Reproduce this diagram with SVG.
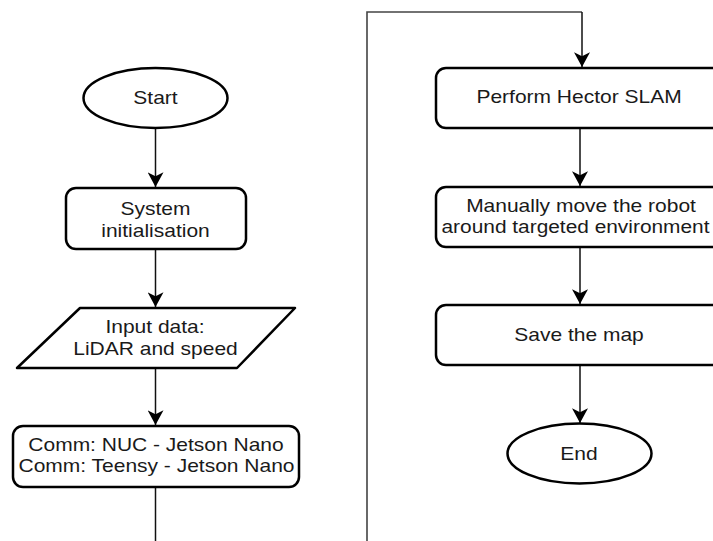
<svg xmlns="http://www.w3.org/2000/svg" width="713" height="541" viewBox="0 0 713 541">
<style>
.shape{fill:#fff;stroke:#000;stroke-width:2.5;stroke-linejoin:round}
.conn{fill:none;stroke:#111;stroke-width:1.5}
.loop{fill:none;stroke:#444;stroke-width:1.6}
text{font-family:"Liberation Sans",Arial,sans-serif;font-size:17.5px;fill:#1a1a1a;text-anchor:middle}
</style>
<defs>
<marker id="arr" markerUnits="userSpaceOnUse" markerWidth="16" markerHeight="16" viewBox="0 0 14 14" refX="13" refY="7" orient="auto">
<path d="M0,0 L13,7 L0,14 L3.5,7 Z" fill="#000"/>
</marker>
</defs>
<rect width="713" height="541" fill="#fff"/>
<g id="connectors">
<path class="conn" d="M155.5,128 V187" marker-end="url(#arr)"/>
<path class="conn" d="M155.5,249 V307" marker-end="url(#arr)"/>
<path class="conn" d="M155.5,368 V425" marker-end="url(#arr)"/>
<path class="conn" d="M155.5,487 V545"/>
<path class="loop" d="M367,545 V12 H582"/>
<path class="conn" d="M582,12 V67" marker-end="url(#arr)"/>
<path class="conn" d="M580,128 V186" marker-end="url(#arr)"/>
<path class="conn" d="M580,247 V304" marker-end="url(#arr)"/>
<path class="conn" d="M580,365 V423" marker-end="url(#arr)"/>
</g>
<g id="start">
<ellipse class="shape" cx="155.5" cy="98" rx="72" ry="30"/>
<text transform="translate(155.5,104) scale(1.2,1)">Start</text>
</g>
<g id="init">
<rect class="shape" x="66" y="188" width="180" height="61" rx="10"/>
<text transform="translate(155.5,215) scale(1.2,1)">System</text>
<text transform="translate(155.5,237) scale(1.2,1)">initialisation</text>
</g>
<g id="input">
<polygon class="shape" points="80,308 295,308 237,368 17,368"/>
<text transform="translate(155,333) scale(1.2,1)">Input data:</text>
<text transform="translate(155.5,355) scale(1.2,1)">LiDAR and speed</text>
</g>
<g id="comm">
<rect class="shape" x="13" y="426" width="286" height="61" rx="10"/>
<text transform="translate(156,451) scale(1.2,1)">Comm: NUC - Jetson Nano</text>
<text transform="translate(156.5,472) scale(1.2,1)">Comm: Teensy - Jetson Nano</text>
</g>
<g id="hector">
<rect class="shape" x="436" y="68" width="286" height="60" rx="10"/>
<text transform="translate(579,103) scale(1.2,1)">Perform Hector SLAM</text>
</g>
<g id="move">
<rect class="shape" x="436" y="187" width="286" height="60" rx="10"/>
<text transform="translate(581,212) scale(1.2,1)">Manually move the robot</text>
<text x="575.5" y="233" textLength="268" lengthAdjust="spacingAndGlyphs">around targeted environment</text>
</g>
<g id="save">
<rect class="shape" x="436" y="305" width="286" height="60" rx="10"/>
<text transform="translate(579,341) scale(1.2,1)">Save the map</text>
</g>
<g id="end">
<ellipse class="shape" cx="579.5" cy="453.5" rx="72" ry="30"/>
<text transform="translate(579,460) scale(1.2,1)">End</text>
</g>
</svg>
